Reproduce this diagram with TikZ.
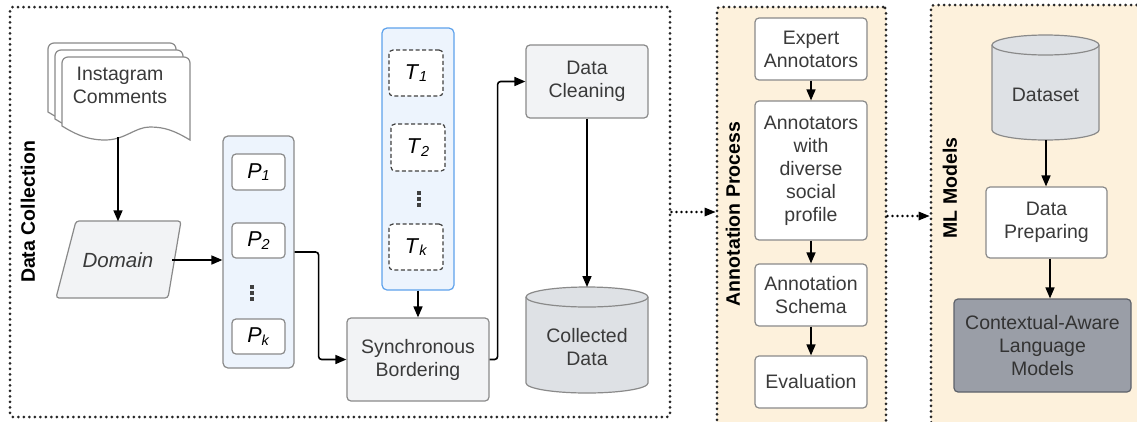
\documentclass[tikz,border=0pt]{standalone}
\usepackage{fontspec}
\setmainfont{Liberation Sans}
\usetikzlibrary{arrows.meta,calc}
\definecolor{txt}{HTML}{3A3A3A}
\definecolor{bordergray}{HTML}{8A8A8A}
\definecolor{boxgray}{HTML}{F2F3F5}
\definecolor{cylgray}{HTML}{DEE1E5}
\definecolor{lightblue}{HTML}{EDF4FD}
\definecolor{blueborder}{HTML}{5EA2EC}
\definecolor{orangebg}{HTML}{FDF1DC}
\definecolor{darkbox}{HTML}{9A9EA7}
\definecolor{darkborder}{HTML}{5E626A}
\newcommand{\mysub}[2]{{\fontsize{21.5}{24}\selectfont\textit{#1}}\raisebox{-0.25ex}{\fontsize{14.5}{14.5}\selectfont\textit{#2}}}
\begin{document}
\begin{tikzpicture}[x=1pt,y=-1pt,
  basefont/.style={font=\fontsize{19.5}{23}\selectfont},
  box/.style={draw=bordergray, line width=1.2pt, rounded corners=4pt, align=center, inner sep=0pt, basefont, text=txt},
  graybox/.style={box, fill=boxgray},
  whitebox/.style={box, fill=white},
  dashbox/.style={box, draw=black!75, fill=white, dashed, dash pattern=on 4pt off 2.5pt, text=black},
  colbox/.style={draw=bordergray, line width=1.2pt, rounded corners=5pt, fill=lightblue},
  frame/.style={draw=black!85, line width=3pt, dash pattern=on 0pt off 5.5pt, line cap=round, rounded corners=3pt},
  arr/.style={line width=1.6pt, -{Triangle[length=11pt,width=9pt]}},
  darr/.style={line width=2.6pt, dash pattern=on 0pt off 5pt, line cap=round, -{Triangle[length=11pt,width=9pt,line cap=butt,line width=0pt]}},
  cyl/.style={draw=bordergray, line width=1.2pt, fill=cylgray},
  lbl/.style={rotate=90, font=\bfseries\fontsize{19.5}{23}\selectfont, text=black, inner sep=0pt},
  docpage/.style={draw=bordergray, line width=1.2pt, fill=white}
]
\useasboundingbox (0,0) rectangle (1137,421);
\clip (0,0) rectangle (1137,421);
\fill[white] (0,0) rectangle (1137,421);

% frames
\node[frame, minimum width=660pt, minimum height=410pt] (dcbox) at (340,212) {};
\node[frame, fill=orangebg, minimum width=169pt, minimum height=418pt] (anbox) at (801.5,216) {};
\node[frame, fill=orangebg, minimum width=214pt, minimum height=420pt] (mlbox) at (1038,215) {};

\node[lbl] (dclabel) at (28,212) {Data Collection};
\node[lbl] (anlabel) at (733,214) {Annotation Process};
\node[lbl] (mllabel) at (950,188) {ML Models};

% Instagram comments document stack
\foreach \s in {-14,-7,0}{
  \begin{scope}[shift={(\s,\s)}]
  \path[docpage] (62,126) [rounded corners=6pt]-- (62,57) -- (190,57) [sharp corners]-- (190,140)
    .. controls (175,131) and (165,127) .. (150,127)
    .. controls (135,127) and (125,140) .. (105,140)
    .. controls (85,140) and (72,132) .. (62,126) -- cycle;
  \end{scope}
}
\node[basefont, text=txt, align=center, inner sep=0pt] (insta) at (120,85) {Instagram\\Comments};
\coordinate (instab) at (118,137);

% Domain parallelogram
\path[draw=bordergray, line width=1.2pt, fill=boxgray, rounded corners=3pt]
  (76,221) -- (181,221) -- (168,298) -- (56,298) -- cycle;
\node[inner sep=0pt, minimum width=108pt, minimum height=77pt, font=\itshape\fontsize{20.5}{24}\selectfont, text=txt] (domain) at (118,260) {Domain};

% P column
\node[colbox, minimum width=71pt, minimum height=232pt] (pcol) at (258.5,252) {};
\node[whitebox, text=black, minimum width=53pt, minimum height=36pt] (p1) at (258.5,172) {\mysub{P}{1}};
\node[whitebox, text=black, minimum width=53pt, minimum height=35pt] (p2) at (258.5,240.5) {\mysub{P}{2}};
\node[whitebox, text=black, minimum width=53pt, minimum height=35pt] (pk) at (258.5,336.5) {\mysub{P}{k}};
\coordinate (pdots) at (252,293);
\foreach \yy in {-6,0,6}{\fill[black!75] ($(pdots)+(-1.6,\yy-1.6)$) rectangle ++(3.2,3.2);}

% T column
\node[colbox, draw=blueborder, minimum width=72pt, minimum height=262pt] (tcol) at (418,159) {};
\node[dashbox, minimum width=54pt, minimum height=46pt] (t1) at (416,73) {\mysub{T}{1}};
\node[dashbox, minimum width=54pt, minimum height=47pt] (t2) at (418,147.5) {\mysub{T}{2}};
\node[dashbox, minimum width=54pt, minimum height=46pt] (tk) at (416,247) {\mysub{T}{k}};
\coordinate (tdots) at (419,199);
\foreach \yy in {-6,0,6}{\fill[black!75] ($(tdots)+(-1.6,\yy-1.6)$) rectangle ++(3.2,3.2);}

% Sync, cleaning
\node[graybox, minimum width=142pt, minimum height=83pt] (sync) at (418,359.5) {Synchronous\\Bordering};
\node[graybox, minimum width=122pt, minimum height=73pt] (clean) at (587,81.5) {Data\\Cleaning};

% Collected data cylinder
\path[cyl] (526,297) -- (526,383) arc (180:360:61pt and 10pt) -- (648,297) arc (0:180:61pt and 10pt) -- cycle;
\draw[draw=bordergray, line width=1.2pt] (526,297) arc (180:360:61pt and 10pt);
\node[basefont, text=txt, align=center, inner sep=0pt] (coll) at (587,347) {Collected\\Data};
\coordinate (colltop) at (587,287);

% Annotation process
\node[whitebox, minimum width=112pt, minimum height=62pt] (expert) at (811,49) {Expert\\Annotators};
\node[whitebox, minimum width=112pt, minimum height=139pt] (diverse) at (811,170.5) {Annotators\\with\\diverse\\social\\profile};
\node[whitebox, minimum width=112pt, minimum height=62pt] (schema) at (811,295) {Annotation\\Schema};
\node[whitebox, minimum width=112pt, minimum height=52pt] (eval) at (811,382) {Evaluation};

% ML models
\path[cyl] (992,45) -- (992,130) arc (180:360:53.5pt and 10pt) -- (1099,45) arc (0:180:53.5pt and 10pt) -- cycle;
\draw[draw=bordergray, line width=1.2pt] (992,45) arc (180:360:53.5pt and 10pt);
\node[basefont, text=txt, inner sep=0pt] (dataset) at (1045.5,95) {Dataset};
\coordinate (datasetb) at (1046,140);
\node[whitebox, minimum width=121pt, minimum height=71pt] (prep) at (1046.5,222.5) {Data\\Preparing};
\node[box, fill=darkbox, draw=darkborder, text=black!80, minimum width=177pt, minimum height=93pt] (calm) at (1042.5,345.5) {Contextual-Aware\\Language\\Models};

% connectors
\draw[arr] (instab) -- (instab |- domain.north);
\draw[arr] (domain.east) -- (domain.east -| pcol.west);
\draw[arr, rounded corners=3pt] (pcol.east) -- ++(24,0) |- (sync.west);
\draw[arr] (tcol.south) -- (sync.north);
\draw[arr, rounded corners=3pt] (sync.east) -- ++(8,0) |- (clean.west);
\draw[arr] (clean.south) -- (colltop);
\draw[arr] (expert.south) -- (diverse.north);
\draw[arr] (diverse.south) -- (schema.north);
\draw[arr] (schema.south) -- (eval.north);
\draw[arr] (datasetb) -- (datasetb |- prep.north);
\draw[arr] (prep.south -| 1050,0) -- (calm.north -| 1050,0);
\draw[darr] (dcbox.east) -- (dcbox.east -| anbox.west);
\draw[darr] (anbox.east) -- (anbox.east -| mlbox.west);
\end{tikzpicture}
\end{document}
